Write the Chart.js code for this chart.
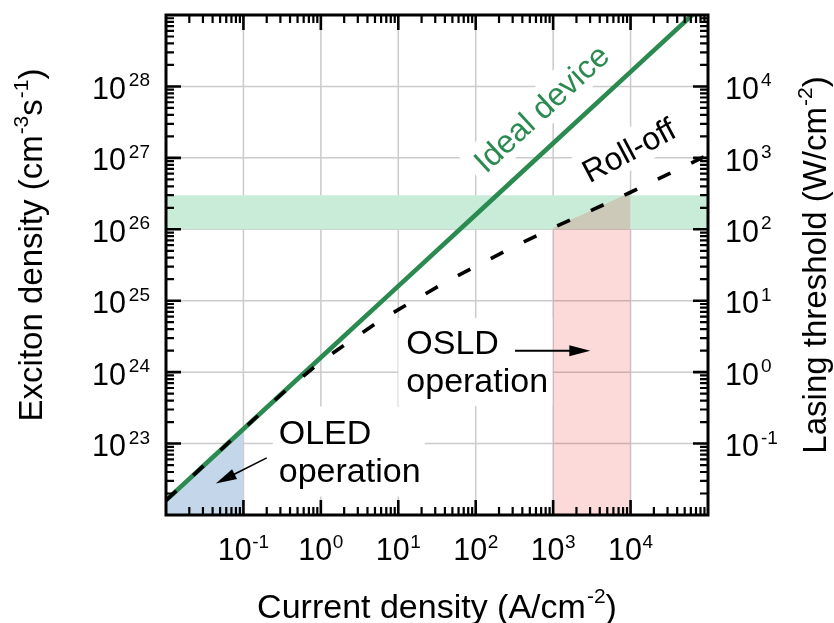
<!DOCTYPE html>
<html>
<head>
<meta charset="utf-8">
<script src="https://cdn.jsdelivr.net/npm/chart.js@4.4.1/dist/chart.umd.min.js"></script>
<style>
  html, body { margin: 0; padding: 0; background: #fff; }
  #wrap { width: 834px; height: 623px; }
</style>
</head>
<body>
<div id="wrap"><canvas id="c" width="834" height="623"></canvas></div>
<script>
// Current density (A/cm^2) and exciton generation density (cm^-3 s^-1)
const idealJ = [1e-2, 1e-1, 1, 10, 100, 1e3, 1e4, 1e5];
const idealN = [1.6e22, 1.6e23, 1.6e24, 1.6e25, 1.6e26, 1.6e27, 1.6e28, 1.6e29];

const rollJ = [0.01, 0.1, 0.316, 1, 2.24, 6.0, 15.8, 43.6, 117, 331, 1000, 3160, 10000, 31600, 100000];
const rollN = [1.6e22, 1.6e23, 5.0e23, 1.4e24, 2.6e24, 5.4e24, 1.0e25, 1.9e25, 3.3e25, 5.9e25, 1.05e26, 1.85e26, 3.3e26, 6.0e26, 1.1e27];

// Exciton density needed for lasing, and the two operating windows in current density
const lasingBand = [1e26, 3e26];
const oledRange = [1e-2, 1e-1];
const osldRange = [1e3, 1e4];

// Decade tick exponents
const xTickExp = [-1, 0, 1, 2, 3, 4];
const yTickExp = [23, 24, 25, 26, 27, 28];
const y2TickExp = [-1, 0, 1, 2, 3, 4];

const FAMILY = '"Liberation Sans", Arial, Helvetica, sans-serif';
const font = sz => `${sz}px ${FAMILY}`;
const GREEN = '#2B8A50';

const pts = (js, ns) => js.map((j, i) => ({ x: j, y: ns[i] }));
const within = (js, ns, r) => pts(js, ns).filter(p => p.x >= r[0] && p.x <= r[1]);

// ---- text helpers (runs of normal text and superscripts) ----
function layoutRich(ctx, parts, size, supSize, gap) {
  let w = 0;
  const items = [];
  parts.forEach(([t, sup], i) => {
    ctx.font = font(sup ? supSize : size);
    const tw = ctx.measureText(t).width;
    if (sup && i > 0) w += gap;
    items.push({ t, sup, x: w });
    w += tw;
  });
  return { items, w };
}
function drawRich(ctx, parts, x, y, o) {
  const { size, supSize, rise, align = 'left', gap = 0 } = o;
  const L = layoutRich(ctx, parts, size, supSize, gap);
  const x0 = align === 'center' ? x - L.w / 2 : align === 'right' ? x - L.w : x;
  ctx.textAlign = 'left';
  ctx.textBaseline = 'alphabetic';
  L.items.forEach(it => {
    ctx.font = font(it.sup ? supSize : size);
    ctx.fillText(it.t, x0 + it.x, it.sup ? y - rise : y);
  });
}

function notePlaces(chart) {
  const { x, y } = chart.scales;
  const P = (j, n) => ({ x: x.getPixelForValue(j), y: y.getPixelForValue(n) });
  const i0 = P(idealJ[0], idealN[0]);
  const i1 = P(idealJ[idealJ.length - 1], idealN[idealN.length - 1]);
  return {
    ideal: { ...P(695, 5e27), ang: Math.atan2(i1.y - i0.y, i1.x - i0.x) },
    roll: { ...P(9.4e3, 1.3e27), ang: -28 * Math.PI / 180 },
    osld: P(12.7, Math.pow(10, 24.252)),
    oled: P(0.286, 1.0e23),
    osldArrow: [P(322, 2e24), P(3020, 2e24)],
    oledArrow: [P(0.2, 6.3e22), P(0.044, 2.75e22)]
  };
}

function rotatedNote(ctx, text, c, size, color, boxOnly) {
  ctx.save();
  ctx.translate(c.x, c.y);
  ctx.rotate(c.ang);
  ctx.font = font(size);
  const w = ctx.measureText(text).width;
  const cap = size * 0.716;
  if (boxOnly) {
    ctx.fillStyle = '#fff';
    ctx.fillRect(-w / 2 - 8, -cap / 2 - 8, w + 16, cap + 16);
  } else {
    ctx.fillStyle = color;
    ctx.textAlign = 'center';
    ctx.textBaseline = 'alphabetic';
    ctx.fillText(text, 0, cap / 2);
  }
  ctx.restore();
}

function arrow(ctx, p0, p1, lw) {
  const ang = Math.atan2(p1.y - p0.y, p1.x - p0.x), L = 21, W = 5.5;
  const bx = p1.x - L * Math.cos(ang), by = p1.y - L * Math.sin(ang);
  ctx.strokeStyle = '#000';
  ctx.lineWidth = lw;
  ctx.beginPath();
  ctx.moveTo(p0.x, p0.y);
  ctx.lineTo(bx + 2 * Math.cos(ang), by + 2 * Math.sin(ang));
  ctx.stroke();
  ctx.fillStyle = '#000';
  ctx.beginPath();
  ctx.moveTo(p1.x, p1.y);
  ctx.lineTo(bx - W * Math.sin(ang), by + W * Math.cos(ang));
  ctx.lineTo(bx + W * Math.sin(ang), by - W * Math.cos(ang));
  ctx.closePath();
  ctx.fill();
}

function drawTicks(ctx, a, scale, horizontal) {
  const lo = Math.floor(Math.log10(scale.min)), hi = Math.ceil(Math.log10(scale.max));
  ctx.strokeStyle = '#000';
  for (let e = lo; e < hi; e++) {
    for (let m = 1; m < 10; m++) {
      const v = m * Math.pow(10, e);
      if (v <= scale.min * 1.0001 || v >= scale.max / 1.0001) continue;
      const p = scale.getPixelForValue(v);
      const len = m === 1 ? 15 : 8;
      ctx.lineWidth = m === 1 ? 2.6 : 2.2;
      ctx.beginPath();
      if (horizontal) {
        ctx.moveTo(p, a.bottom); ctx.lineTo(p, a.bottom - len);
        ctx.moveTo(p, a.top); ctx.lineTo(p, a.top + len);
      } else {
        ctx.moveTo(a.left, p); ctx.lineTo(a.left + len, p);
        ctx.moveTo(a.right, p); ctx.lineTo(a.right - len, p);
      }
      ctx.stroke();
    }
  }
}

const plotDecor = {
  id: 'plotDecor',
  beforeDatasetsDraw(chart) {
    const { ctx, chartArea: a, scales: { x, y } } = chart;
    ctx.save();
    // decade grid
    ctx.strokeStyle = '#cbcbcb';
    ctx.lineWidth = 1.5;
    ctx.beginPath();
    xTickExp.forEach(e => {
      const p = x.getPixelForValue(Math.pow(10, e));
      ctx.moveTo(p, a.top); ctx.lineTo(p, a.bottom);
    });
    yTickExp.forEach(e => {
      const p = y.getPixelForValue(Math.pow(10, e));
      ctx.moveTo(a.left, p); ctx.lineTo(a.right, p);
    });
    ctx.stroke();
    // white backgrounds behind the annotations
    ctx.beginPath();
    ctx.rect(a.left, a.top, a.right - a.left, a.bottom - a.top);
    ctx.clip();
    const n = notePlaces(chart);
    rotatedNote(ctx, 'Ideal device', n.ideal, 32, GREEN, true);
    rotatedNote(ctx, 'Roll-off', n.roll, 32, '#000', true);
    ctx.fillStyle = '#fff';
    ctx.fillRect(n.osld.x - 8, n.osld.y - 36, 154, 88);
    ctx.fillRect(n.oled.x - 6, n.oled.y - 37, 152, 90);
    ctx.restore();
  },
  afterDatasetsDraw(chart) {
    const { ctx, chartArea: a, scales: { x, y, y2 } } = chart;
    const n = notePlaces(chart);
    ctx.save();
    // annotations
    rotatedNote(ctx, 'Ideal device', n.ideal, 32, GREEN, false);
    rotatedNote(ctx, 'Roll-off', n.roll, 32, '#000', false);
    ctx.fillStyle = '#000';
    ctx.font = font(34);
    ctx.textAlign = 'left';
    ctx.textBaseline = 'alphabetic';
    ctx.fillText('OSLD', n.osld.x, n.osld.y);
    ctx.fillText('operation', n.osld.x, n.osld.y + 38);
    ctx.fillText('OLED', n.oled.x, n.oled.y);
    ctx.fillText('operation', n.oled.x, n.oled.y + 38);
    arrow(ctx, n.osldArrow[0], n.osldArrow[1], 2);
    arrow(ctx, n.oledArrow[0], n.oledArrow[1], 1.6);

    // frame and inward ticks on all four sides
    drawTicks(ctx, a, x, true);
    drawTicks(ctx, a, y, false);
    ctx.strokeStyle = '#000';
    ctx.lineWidth = 3;
    ctx.strokeRect(a.left, a.top, a.right - a.left, a.bottom - a.top);

    // tick labels
    ctx.fillStyle = '#000';
    yTickExp.forEach(e => {
      const t = y.getPixelForValue(Math.pow(10, e));
      drawRich(ctx, [['10', 0], [String(e), 1]], 150, t + 12.5,
        { size: 30.5, supSize: 19, rise: 12.5, align: 'right', gap: 3 });
    });
    xTickExp.forEach(e => {
      const t = x.getPixelForValue(Math.pow(10, e));
      drawRich(ctx, [['10', 0], [String(e), 1]], t, 560,
        { size: 30.5, supSize: 19, rise: 11.7, align: 'center', gap: 0.5 });
    });
    y2TickExp.forEach(e => {
      const t = y2.getPixelForValue(Math.pow(10, e));
      drawRich(ctx, [['10', 0], [String(e), 1]], 725, t + 12.7,
        { size: 30.5, supSize: 19, rise: 12.7, align: 'left', gap: 2 });
    });

    // axis titles
    drawRich(ctx, [['Current density (A/cm', 0], ['-2', 1], [')', 0]], (a.left + a.right) / 2, 618,
      { size: 34, supSize: 21, rise: 15, align: 'center', gap: 1 });

    ctx.save();
    ctx.translate(42, 245);
    ctx.rotate(-Math.PI / 2);
    drawRich(ctx, [['Exciton density (cm', 0], ['-3', 1], ['s', 0], ['-1', 1], [')', 0]], 0, 0,
      { size: 33, supSize: 21, rise: 14, align: 'center', gap: 1 });
    ctx.restore();

    ctx.save();
    ctx.translate(826, (a.top + a.bottom) / 2);
    ctx.rotate(-Math.PI / 2);
    drawRich(ctx, [['Lasing threshold (W/cm', 0], ['-2', 1], [')', 0]], 0, 0,
      { size: 33, supSize: 21, rise: 14, align: 'center', gap: 1 });
    ctx.restore();

    ctx.restore();
  }
};

const hiddenAxis = {
  type: 'logarithmic',
  ticks: { display: false },
  grid: { display: false, drawTicks: false },
  border: { display: false }
};

new Chart(document.getElementById('c'), {
  type: 'line',
  data: {
    datasets: [
      {
        label: 'Roll-off',
        data: pts(rollJ, rollN),
        borderColor: '#000',
        borderWidth: 3.6,
        borderDash: [14, 23],
        pointRadius: 0,
        fill: false,
        order: 0
      },
      {
        label: 'Ideal device',
        data: pts(idealJ, idealN),
        borderColor: GREEN,
        borderWidth: 4.6,
        pointRadius: 0,
        fill: false,
        order: 1
      },
      {
        label: 'OSLD operation',
        data: within(rollJ, rollN, osldRange),
        borderWidth: 0,
        borderColor: 'rgba(0,0,0,0)',
        backgroundColor: 'rgba(234,0,0,0.145)',
        pointRadius: 0,
        fill: 'start',
        order: 2
      },
      {
        label: 'OLED operation',
        data: within(idealJ, idealN, oledRange),
        borderWidth: 0,
        borderColor: 'rgba(0,0,0,0)',
        backgroundColor: '#C4D6EA',
        pointRadius: 0,
        fill: 'start',
        order: 3
      },
      {
        label: 'Lasing threshold',
        data: [{ x: 1e-2, y: lasingBand[1] }, { x: 1e5, y: lasingBand[1] }],
        borderWidth: 0,
        borderColor: 'rgba(0,0,0,0)',
        backgroundColor: '#C8ECD8',
        pointRadius: 0,
        fill: { value: lasingBand[0] },
        order: 4
      }
    ]
  },
  options: {
    responsive: false,
    animation: false,
    layout: { padding: { top: 15, left: 0, right: 0, bottom: 0 } },
    plugins: { legend: { display: false }, tooltip: { enabled: false } },
    scales: {
      x: { ...hiddenAxis, position: 'bottom', min: 1e-2, max: 1e5, afterFit(s) { s.height = 108; } },
      y: { ...hiddenAxis, position: 'left', min: 1e22, max: 1e29, afterFit(s) { s.width = 166; } },
      y2: { ...hiddenAxis, position: 'right', min: 1e-2, max: 1e5, afterFit(s) { s.width = 126; } }
    }
  },
  plugins: [plotDecor]
});
</script>
</body>
</html>
